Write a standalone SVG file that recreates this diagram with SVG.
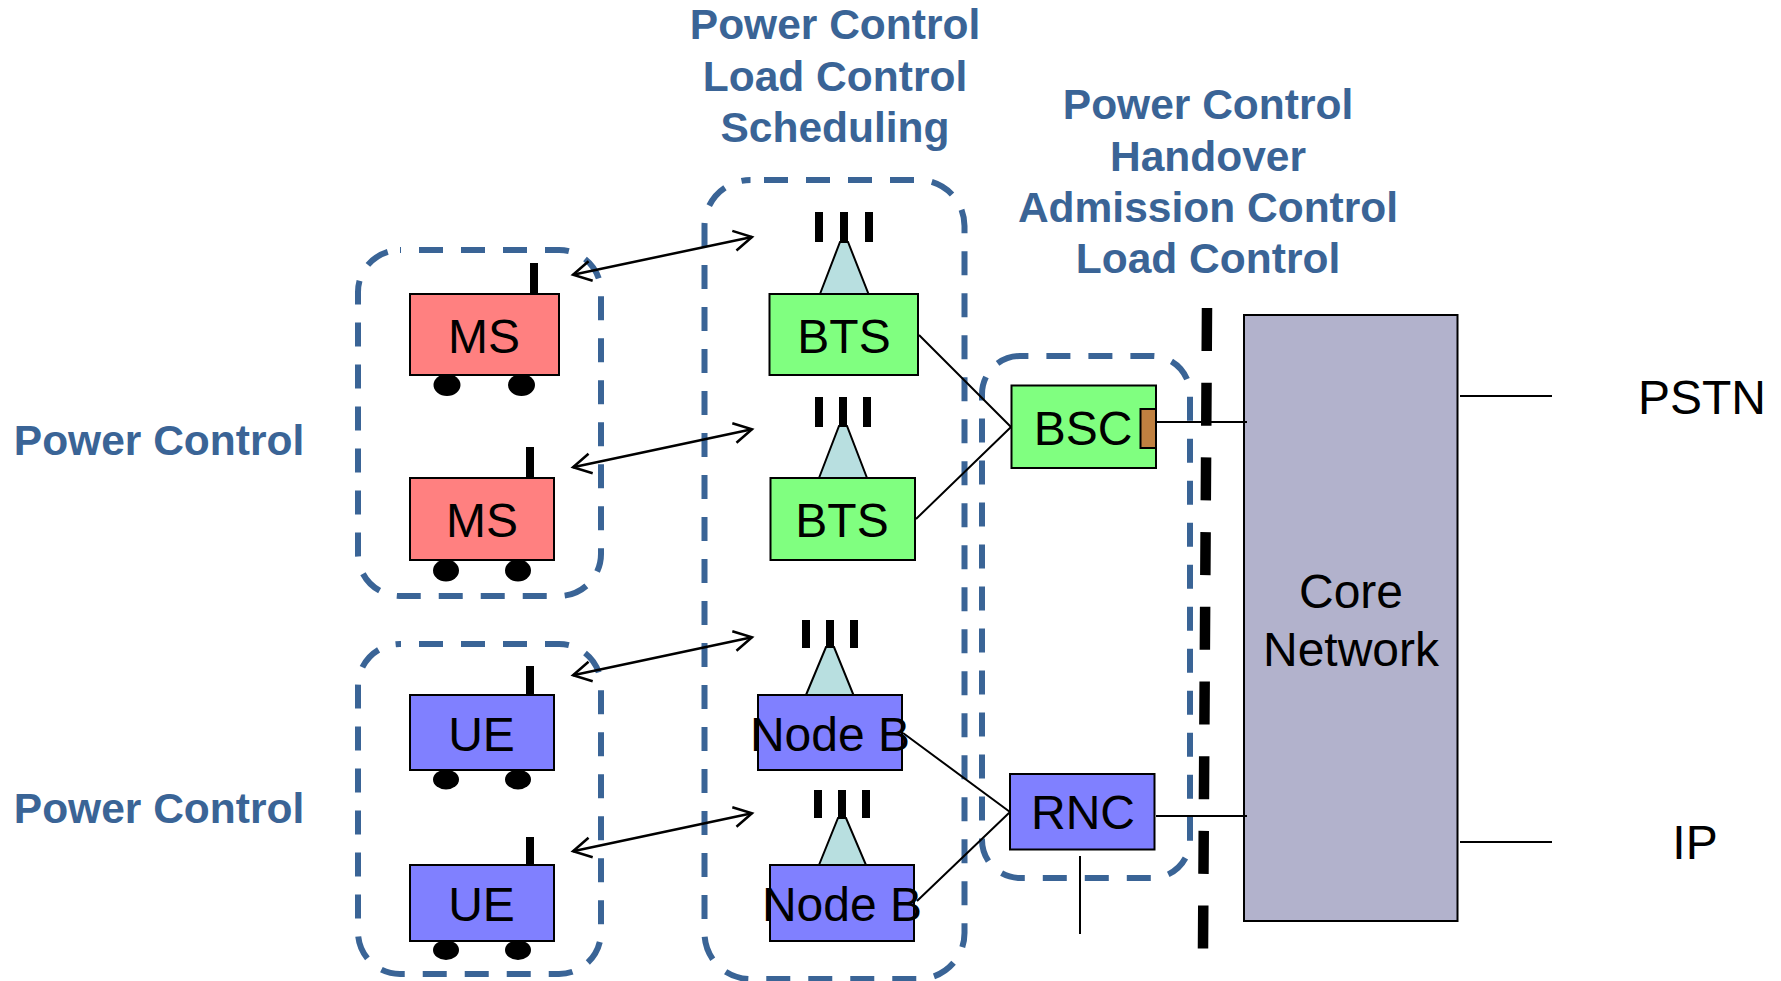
<svg xmlns="http://www.w3.org/2000/svg" width="1781" height="981" viewBox="0 0 1781 981">
<defs>
<marker id="open" viewBox="0 0 24 24" refX="21" refY="12" markerWidth="24" markerHeight="24" markerUnits="userSpaceOnUse" orient="auto-start-reverse"><path d="M3 2 L21 12 L3 22" fill="none" stroke="#000" stroke-width="2.500"/></marker>
</defs>
<style>
text{font-family:"Liberation Sans",Arial,sans-serif;fill:#000;font-size:48px;text-anchor:middle}
.h{font-weight:bold;fill:#3a6496;font-size:42.500px}
.grp{fill:none;stroke:#3a6496;stroke-width:6;stroke-dasharray:24 18}
.box{stroke:#000;stroke-width:2}
.red{fill:#ff8080}.green{fill:#80ff80}.blue{fill:#8080ff}
.tri{fill:#b8dfe0;stroke:#000;stroke-width:2}
.bar{fill:#000}
.l{stroke:#000;stroke-width:2;fill:none}
.arr{stroke:#000;stroke-width:2.500;fill:none;marker-start:url(#open);marker-end:url(#open)}
</style>
<rect width="1781" height="981" fill="#fff"/>
<g id="group-ms"><rect class="grp" x="358" y="250" width="243" height="346" rx="42" stroke-dashoffset="-19"/></g>
<g id="group-ue"><rect class="grp" x="358" y="644" width="243" height="330" rx="42" stroke-dashoffset="-19"/></g>
<g id="group-bts"><rect class="grp" x="704.500" y="180" width="260" height="799" rx="46" stroke-dashoffset="-13.500"/></g>
<g id="group-bsc"><rect class="grp" x="982" y="356" width="208" height="522" rx="38" stroke-dashoffset="-26.400"/></g>
<g id="ms1"><rect class="bar" x="530" y="263" width="8" height="31"/><rect class="box red" x="410" y="294" width="149" height="81"/><ellipse cx="447" cy="385" rx="13.500" ry="11"/><ellipse cx="521.500" cy="385" rx="13.500" ry="11"/><text x="484" y="353">MS</text></g>
<g id="ms2"><rect class="bar" x="526" y="447" width="8" height="31"/><rect class="box red" x="410" y="478" width="144" height="82"/><ellipse cx="446" cy="570.500" rx="13" ry="11"/><ellipse cx="518" cy="570.500" rx="13" ry="11"/><text x="482" y="537">MS</text></g>
<g id="ue1"><rect class="bar" x="526" y="666" width="8" height="29"/><rect class="box blue" x="410" y="695" width="144" height="75"/><ellipse cx="446" cy="779.500" rx="13" ry="10"/><ellipse cx="518" cy="779.500" rx="13" ry="10"/><text x="481.500" y="751">UE</text></g>
<g id="ue2"><rect class="bar" x="526" y="837" width="8" height="28"/><rect class="box blue" x="410" y="865" width="144" height="76"/><ellipse cx="446" cy="950" rx="13" ry="10"/><ellipse cx="518" cy="950" rx="13" ry="10"/><text x="481.500" y="921">UE</text></g>
<g id="bts1"><path class="tri" d="M820 294L840 242H848L868.500 294Z"/><rect class="bar" x="815" y="212" width="8" height="30"/><rect class="bar" x="840" y="212" width="8" height="30"/><rect class="bar" x="865" y="212" width="8" height="30"/><rect class="box green" x="769.500" y="294" width="148.500" height="81"/><text x="844" y="353">BTS</text></g>
<g id="bts2"><path class="tri" d="M819 478L839 426H847L867 478Z"/><rect class="bar" x="815" y="397" width="8" height="30"/><rect class="bar" x="839" y="397" width="8" height="30"/><rect class="bar" x="863" y="397" width="8" height="30"/><rect class="box green" x="770.500" y="478" width="144.500" height="82"/><text x="842" y="537">BTS</text></g>
<g id="nodeb1"><path class="tri" d="M806 695L826 647H834L853.500 695Z"/><rect class="bar" x="802" y="620" width="8" height="28"/><rect class="bar" x="826" y="620" width="8" height="28"/><rect class="bar" x="850" y="620" width="8" height="28"/><rect class="box blue" x="758" y="695" width="144" height="75"/><text x="830" y="751">Node B</text></g>
<g id="nodeb2"><path class="tri" d="M819 865L838 818H846L866 865Z"/><rect class="bar" x="814" y="790" width="8" height="28"/><rect class="bar" x="838" y="790" width="8" height="28"/><rect class="bar" x="862" y="790" width="8" height="28"/><rect class="box blue" x="770" y="865" width="144" height="76"/><text x="842" y="921">Node B</text></g>
<g id="bsc"><rect class="box green" x="1011.500" y="385.500" width="144.500" height="82.500"/><rect x="1140.500" y="409" width="15.500" height="39" fill="#c08040" stroke="#000" stroke-width="2"/><text x="1083" y="445">BSC</text></g>
<g id="rnc"><rect class="box blue" x="1010" y="774" width="144.500" height="75.500"/><text x="1083" y="829">RNC</text></g>
<g id="core"><rect x="1244" y="315" width="213.500" height="606" fill="#b2b2cc" stroke="#000" stroke-width="2"/><text x="1351" y="608">Core</text><text x="1351" y="666">Network</text></g>
<g id="boundary"><path d="M1207 308L1203 949" fill="none" stroke="#000" stroke-width="10.500" stroke-dasharray="43 31.700"/></g>
<g id="connectors">
<path class="l" d="M919 335L1011 427M916 519L1011 427M903 733L1010 812M917 901L1010 812M1156 422H1247M1156 816H1247M1080 856V934M1460 396H1552M1460 842H1552"/>
<path class="arr" d="M573 274.700L752 237"/>
<path class="arr" d="M573 467.200L752 429.300"/>
<path class="arr" d="M573 675.200L752 637.300"/>
<path class="arr" d="M573 851.200L752 813.300"/>
</g>
<g id="labels">
<text class="h" x="835" y="39">Power Control</text>
<text class="h" x="835" y="91">Load Control</text>
<text class="h" x="835" y="142">Scheduling</text>
<text class="h" x="1208" y="119">Power Control</text>
<text class="h" x="1208" y="171">Handover</text>
<text class="h" x="1208" y="222">Admission Control</text>
<text class="h" x="1208" y="273">Load Control</text>
<text class="h" x="159" y="455">Power Control</text>
<text class="h" x="159" y="823">Power Control</text>
<text x="1702" y="414">PSTN</text>
<text x="1695" y="859">IP</text>
</g>
</svg>
